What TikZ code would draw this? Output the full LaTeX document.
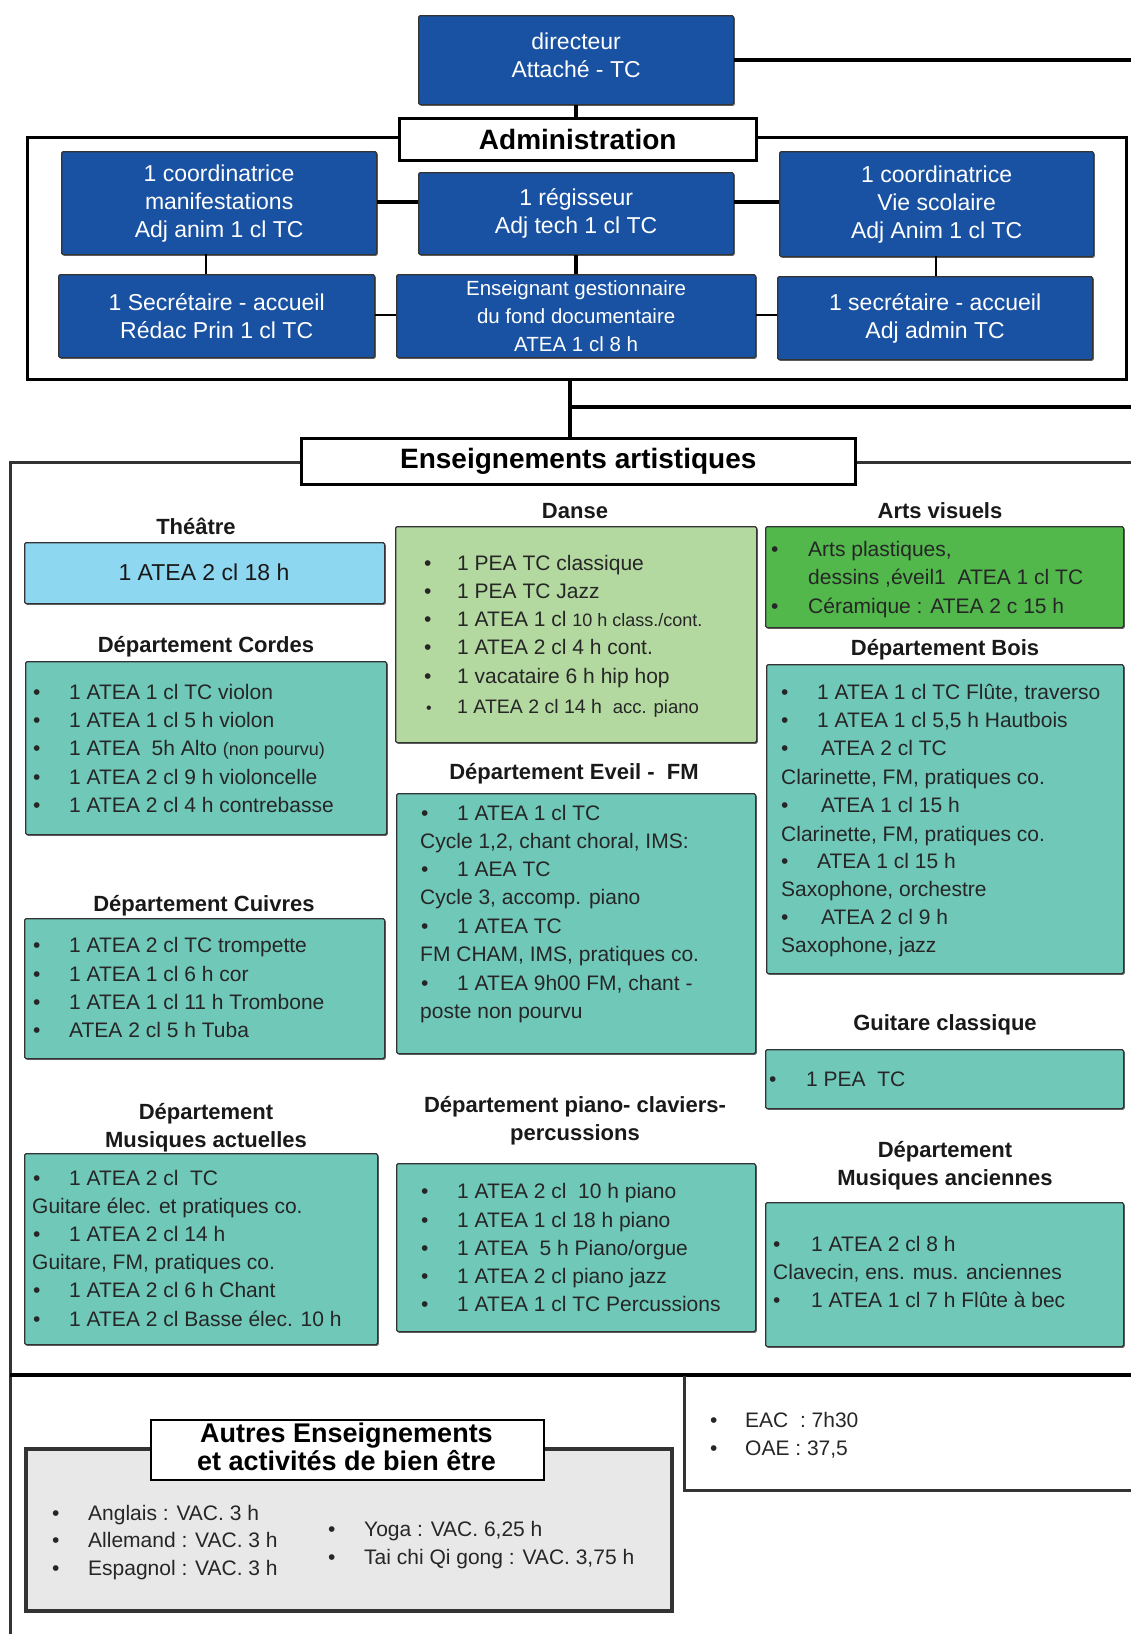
\documentclass[tikz,border=0pt]{standalone}
\usepackage{fontspec}
\setmainfont{Liberation Sans}
\usetikzlibrary{shadows}
\definecolor{dblue}{HTML}{1A52A3}
\definecolor{teal2}{HTML}{70C8B9}
\definecolor{lblue}{HTML}{8DD7F1}
\definecolor{lgreen}{HTML}{B3D9A0}
\definecolor{vgreen}{HTML}{52B84C}
\definecolor{lgray}{HTML}{E8E8E8}
\definecolor{frame}{HTML}{333333}
\newcommand{\fs}[1]{\fontsize{#1}{28}\selectfont}
\tikzset{
  boxbase/.style={draw=frame, line width=1.3pt, rounded corners=1.5pt, anchor=north west, inner sep=0pt,
     drop shadow={shadow xshift=1.2pt, shadow yshift=-1.2pt, fill=black!55, opacity=1}},
  bluebox/.style={boxbase, fill=dblue, text=white, align=center, font=\fs{23}},
  tealbox/.style={boxbase, fill=teal2},
  labelbox/.style={draw=black, line width=2.5pt, fill=white, anchor=north west, inner sep=0pt, align=center},
  heading/.style={font=\bfseries\fs{22}, anchor=mid, inner sep=0pt, text=black!90, yshift=-4.5pt},
  item/.style={font=\fs{21}, anchor=mid west, inner sep=0pt, text=black!85, yshift=-4.5pt},
  bul/.style={font=\fs{21}, anchor=mid west, inner sep=0pt, text=black!85, yshift=-4.5pt},
  thickline/.style={line width=4pt, black},
  thinline/.style={line width=2pt, black},
}
\begin{document}
\begin{tikzpicture}[x=1pt,y=-1pt]
\useasboundingbox (0,0) rectangle (1131,1634);
\coordinate (redge) at (1131,0);

% ---------- top ----------
\node[bluebox, minimum width=315, minimum height=89] (dir) at (418,15) {};
\node[text=white, align=center, font=\fs{23}, inner sep=0pt, yshift=5pt] (dirt) at (dir.center) {directeur\\Attaché - TC};
\draw[thickline] (dir.east) -- (dir.east -| redge);

% admin frame
\draw[line width=3pt] (1126,137) -- (27,137) -- (27,379) -- (1126,379) -- cycle;
\node[labelbox, minimum width=357, minimum height=42, font=\bfseries\fs{28}] (adm) at (398,117) {Administration};
\draw[thickline] (dir.south) -- (dir.south |- adm.north);

\node[bluebox, minimum width=315, minimum height=103] (l1) at (61,151) {1 coordinatrice\\manifestations\\Adj anim 1 cl TC};
\node[bluebox, minimum width=315, minimum height=82] (m1) at (418,172) {1 régisseur\\Adj tech 1 cl TC};
\node[bluebox, minimum width=314, minimum height=105] (r1) at (779,151) {1 coordinatrice\\Vie scolaire\\Adj Anim 1 cl TC};
\node[bluebox, minimum width=316, minimum height=83] (l2) at (58,274) {1 Secrétaire - accueil\\Rédac Prin 1 cl TC};
\node[bluebox, minimum width=359, minimum height=83, font=\fs{20.5}] (m2) at (396,274) {Enseignant gestionnaire\\du fond documentaire\\ATEA 1 cl 8 h};
\node[bluebox, minimum width=315, minimum height=83] (r2) at (777,276) {1 secrétaire - accueil\\Adj admin TC};

\coordinate (c1) at (0,202);
\draw[thickline] (l1.east |- c1) -- (m1.west |- c1);
\draw[thickline] (m1.east |- c1) -- (r1.west |- c1);
\draw[thinline] (206,254) coordinate (v1) -- (v1 |- l2.north);
\draw[thickline] (m1.south) -- (m2.north -| m1.south);
\draw[thinline] (936,256) coordinate (v3) -- (v3 |- r2.north);
\coordinate (c2) at (0,315);
\draw[thinline] (l2.east |- c2) -- (m2.west |- c2);
\draw[thinline] (m2.east |- c2) -- (r2.west |- c2);

% connector down to enseignements
\coordinate (adminbottom) at (570,379);
\coordinate (branch) at (570,407);
\draw[thickline] (branch) -- (branch -| redge);

% ---------- Enseignements ----------
\draw[line width=3pt, frame] (1131,462) -- (10,462) -- (10,1634);
\draw[line width=4pt, black] (10,1375) -- (1131,1375);
\node[labelbox, minimum width=554, minimum height=46, font=\bfseries\fs{28}] (ens) at (300,437) {Enseignements artistiques};
\draw[thickline] (adminbottom) -- (adminbottom |- ens.north);

% headings
\node[heading] (hth) at (196,527) {Théâtre};
\node[heading] (hda) at (575,511) {Danse};
\node[heading] (hav) at (940,511) {Arts visuels};
\node[heading] (hco) at (206,645) {Département Cordes};
\node[heading] (hbo) at (945,648) {Département Bois};
\node[heading] (hev) at (574,772) {Département Eveil -\ \ FM};
\node[heading] (hcu) at (204,904) {Département Cuivres};
\node[heading] (hgu) at (945,1023) {Guitare classique};
\node[heading] (hma1) at (206,1112) {Département};
\node[heading] (hma2) at (206,1140) {Musiques actuelles};
\node[heading] (hpi1) at (575,1105) {Département piano- claviers-};
\node[heading] (hpi2) at (575,1133) {percussions};
\node[heading] (han1) at (945,1150) {Département};
\node[heading] (han2) at (945,1178) {Musiques anciennes};

% boxes
\node[boxbase, fill=lblue, minimum width=360, minimum height=61] (bth) at (24,542) {};
\node[font=\fs{23}, inner sep=0pt, anchor=mid, text=black!90, yshift=-4.5pt] (tth) at (204,573) {1 ATEA 2 cl 18 h};

\node[boxbase, fill=lgreen, minimum width=361, minimum height=216] (bda) at (395,526) {};
\node[boxbase, fill=vgreen, minimum width=358, minimum height=101] (bav) at (765,526) {};
\node[tealbox, minimum width=361, minimum height=173] (bco) at (25,661) {};
\node[tealbox, minimum width=357, minimum height=309] (bbo) at (766,664) {};
\node[tealbox, minimum width=359, minimum height=260] (bev) at (396,793) {};
\node[tealbox, minimum width=360, minimum height=140] (bcu) at (24,918) {};
\node[tealbox, minimum width=358, minimum height=59] (bgu) at (765,1049) {};
\node[tealbox, minimum width=353, minimum height=191] (bma) at (24,1153) {};
\node[tealbox, minimum width=359, minimum height=168] (bpi) at (396,1163) {};
\node[tealbox, minimum width=358, minimum height=144] (ban) at (765,1202) {};

% Danse
\foreach \y in {563,591,619,647,676} \node[bul] at (424,\y) {•};
\node[bul, font=\fs{16}] at (426,706) {•};
\node[item] (d1) at (457,563) {1 PEA TC classique};
\node[item] (d2) at (457,591) {1 PEA TC Jazz};
\node[item] (d3) at (457,619) {1 ATEA 1 cl {\fs{18}10 h class./cont.}};
\node[item] (d4) at (457,647) {1 ATEA 2 cl 4 h cont.};
\node[item] (d5) at (457,676) {1 vacataire 6 h hip hop};
\node[item, font=\fs{19.5}] (d6) at (457,706) {1 ATEA 2 cl 14 h\ \ {\fs{18.5}acc. piano}};

% Arts visuels
\node[bul] at (771,549) {•};
\node[bul] at (771,606) {•};
\node[item] (a1) at (808,549) {Arts plastiques,};
\node[item] (a2) at (808,577) {dessins ,éveil1\ \ ATEA 1 cl TC};
\node[item] (a3) at (808,606) {Céramique : ATEA 2 c 15 h};

% Cordes
\foreach \y in {692,720,748,777,805} \node[bul] at (33,\y) {•};
\node[item] (co1) at (69,692) {1 ATEA 1 cl TC violon};
\node[item] (co2) at (69,720) {1 ATEA 1 cl 5 h violon};
\node[item] (co3) at (69,748) {1 ATEA\ \ 5h Alto {\fs{18}(non pourvu)}};
\node[item] (co4) at (69,777) {1 ATEA 2 cl 9 h violoncelle};
\node[item] (co5) at (69,805) {1 ATEA 2 cl 4 h contrebasse};

% Bois
\foreach \y in {692,720,748,805,861,917} \node[bul] at (781,\y) {•};
\node[item] (b1) at (817,692) {1 ATEA 1 cl TC Flûte, traverso};
\node[item] (b2) at (817,720) {1 ATEA 1 cl 5,5 h Hautbois};
\node[item] (b3) at (821,748) {ATEA 2 cl TC};
\node[item] (b4) at (781,777) {Clarinette, FM, pratiques co.};
\node[item] (b5) at (821,805) {ATEA 1 cl 15 h};
\node[item] (b6) at (781,834) {Clarinette, FM, pratiques co.};
\node[item] (b7) at (817,861) {ATEA 1 cl 15 h};
\node[item] (b8) at (781,889) {Saxophone, orchestre};
\node[item] (b9) at (821,917) {ATEA 2 cl 9 h};
\node[item] (b10) at (781,945) {Saxophone, jazz};

% Eveil
\foreach \y in {813,869,926,983} \node[bul] at (421,\y) {•};
\node[item] (e1) at (457,813) {1 ATEA 1 cl TC};
\node[item] (e2) at (420,841) {Cycle 1,2, chant choral, IMS:};
\node[item] (e3) at (457,869) {1 AEA TC};
\node[item] (e4) at (420,897) {Cycle 3, accomp. piano};
\node[item] (e5) at (457,926) {1 ATEA TC};
\node[item] (e6) at (420,954) {FM CHAM, IMS, pratiques co.};
\node[item] (e7) at (457,983) {1 ATEA 9h00 FM, chant -};
\node[item] (e8) at (420,1011) {poste non pourvu};

% Cuivres
\foreach \y in {945,974,1002,1030} \node[bul] at (33,\y) {•};
\node[item] (cu1) at (69,945) {1 ATEA 2 cl TC trompette};
\node[item] (cu2) at (69,974) {1 ATEA 1 cl 6 h cor};
\node[item] (cu3) at (69,1002) {1 ATEA 1 cl 11 h Trombone};
\node[item] (cu4) at (69,1030) {ATEA 2 cl 5 h Tuba};

% Guitare classique
\node[bul] at (769,1079) {•};
\node[item] (g1) at (806,1079) {1 PEA\ \ TC};

% Musiques actuelles
\foreach \y in {1178,1234,1290,1319} \node[bul] at (33,\y) {•};
\node[item] (ma1) at (69,1178) {1 ATEA 2 cl\ \ TC};
\node[item] (ma2) at (32,1206) {Guitare élec. et pratiques co.};
\node[item] (ma3) at (69,1234) {1 ATEA 2 cl 14 h};
\node[item] (ma4) at (32,1262) {Guitare, FM, pratiques co.};
\node[item] (ma5) at (69,1290) {1 ATEA 2 cl 6 h Chant};
\node[item] (ma6) at (69,1319) {1 ATEA 2 cl Basse élec. 10 h};

% Piano
\foreach \y in {1191,1220,1248,1276,1304} \node[bul] at (421,\y) {•};
\node[item] (p1) at (457,1191) {1 ATEA 2 cl\ \ 10 h piano};
\node[item] (p2) at (457,1220) {1 ATEA 1 cl 18 h piano};
\node[item] (p3) at (457,1248) {1 ATEA\ \ 5 h Piano/orgue};
\node[item] (p4) at (457,1276) {1 ATEA 2 cl piano jazz};
\node[item] (p5) at (457,1304) {1 ATEA 1 cl TC Percussions};

% Musiques anciennes
\foreach \y in {1244,1300} \node[bul] at (773,\y) {•};
\node[item] (an1) at (811,1244) {1 ATEA 2 cl 8 h};
\node[item] (an2) at (773,1272) {Clavecin, ens. mus. anciennes};
\node[item] (an3) at (811,1300) {1 ATEA 1 cl 7 h Flûte à bec};

% ---------- bottom ----------
\draw[line width=3pt, frame] (1131,1490) -- (684,1490) -- (684,1376);
\foreach \y in {1420,1448} \node[bul] at (710,\y) {•};
\node[item] (eac) at (745,1420) {EAC\ \ : 7h30};
\node[item] (oae) at (745,1448) {OAE : 37,5};

\node[draw=frame, line width=4pt, fill=lgray, anchor=north west, inner sep=0pt, minimum width=646, minimum height=162] (bau) at (24,1447) {};
\node[labelbox, line width=1.8pt, minimum width=393, minimum height=60] (lau) at (150,1419) {};
\node[font=\bfseries\fs{27}, inner sep=0pt, anchor=mid, yshift=-4.5pt] (lau1) at (346.5,1435) {Autres Enseignements};
\node[font=\bfseries\fs{27}, inner sep=0pt, anchor=mid, yshift=-4.5pt] (lau2) at (346.5,1463) {et activités de bien être};
\foreach \y in {1513,1540,1568} \node[bul] at (52,\y) {•};
\foreach \y in {1529,1557} \node[bul] at (328,\y) {•};
\node[item] (au1) at (88,1513) {Anglais : VAC. 3 h};
\node[item] (au2) at (88,1540) {Allemand : VAC. 3 h};
\node[item] (au3) at (88,1568) {Espagnol : VAC. 3 h};
\node[item] (au4) at (364,1529) {Yoga : VAC. 6,25 h};
\node[item] (au5) at (364,1557) {Tai chi Qi gong : VAC. 3,75 h};
\end{tikzpicture}
\end{document}
